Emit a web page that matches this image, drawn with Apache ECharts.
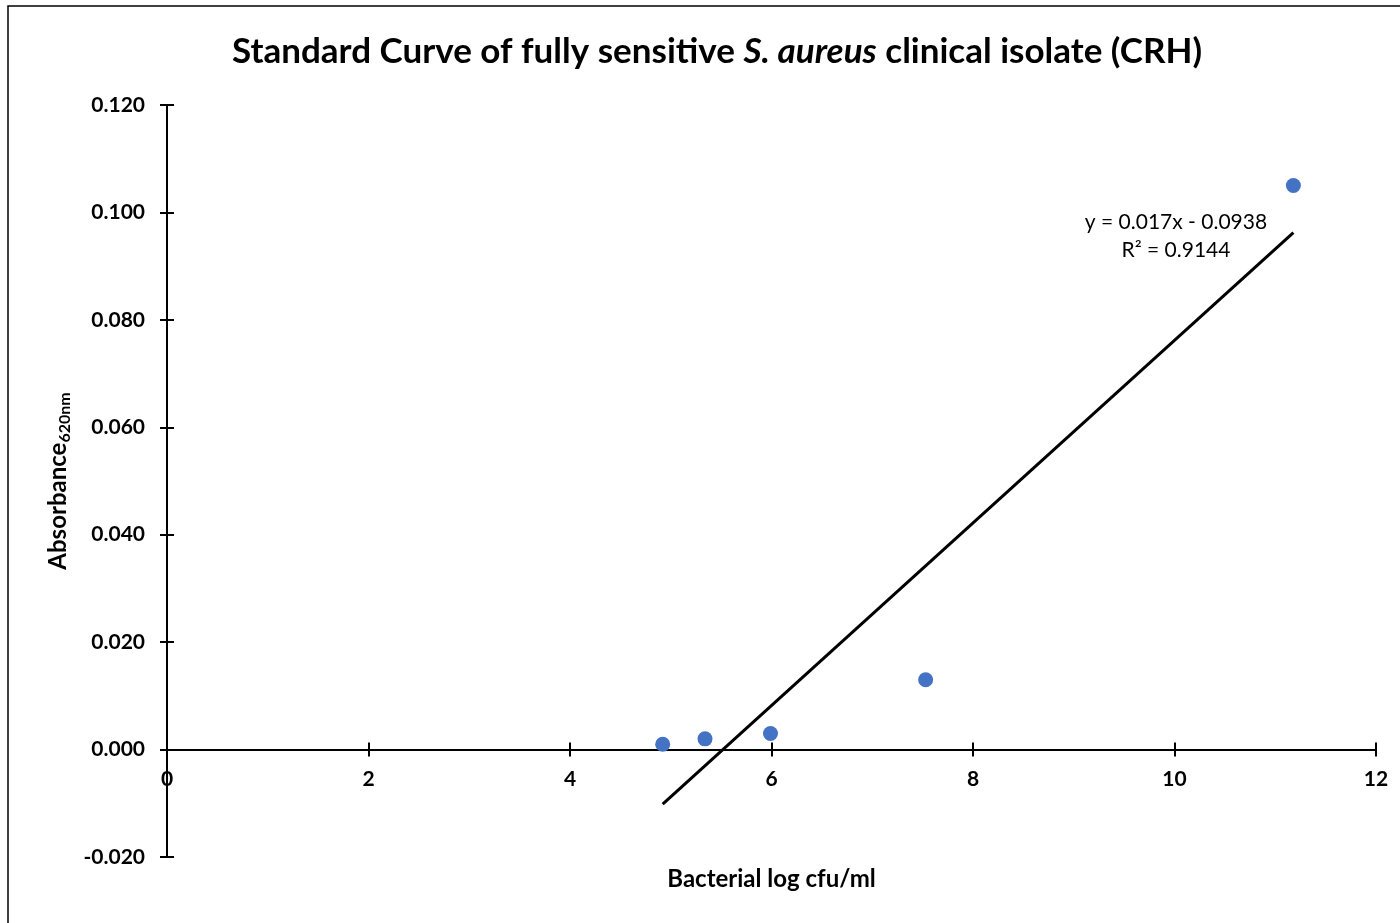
<!DOCTYPE html>
<html><head><meta charset="utf-8">
<script src="https://cdn.jsdelivr.net/npm/echarts@6/dist/echarts.min.js"></script>
<style>html,body{margin:0;padding:0;background:#fff}#c{width:1400px;height:923px}</style>
</head><body><div id="c"></div>
<script>
const logCfu = [4.92, 5.34, 5.99, 7.53, 11.18];
const absorbance = [0.001, 0.002, 0.003, 0.013, 0.105];
const trendSlope = 0.017;
const trendIntercept = -0.0938;
const trendR2 = 0.9144;
const xTicks = [0, 2, 4, 6, 8, 10, 12];
const yTicks = [-0.020, 0.000, 0.020, 0.040, 0.060, 0.080, 0.100, 0.120];

const FONT = 'Lato, "Noto Sans", sans-serif';
const xMinD = Math.min(...logCfu), xMaxD = Math.max(...logCfu);
const trend = [[xMinD, trendSlope * xMinD + trendIntercept], [xMaxD, trendSlope * xMaxD + trendIntercept]];

const GRID = {left: 167, right: 24, top: 105, bottom: 66};
const H = 923;
const yMin = yTicks[0], yMax = yTicks[yTicks.length - 1];
const plotH = H - GRID.top - GRID.bottom;
const zeroOffset = -plotH * (0 - yMin) / (yMax - yMin);

const chart = echarts.init(document.getElementById('c'), null, {renderer: 'canvas'});
const axisLine = {lineStyle: {color: '#000', width: 2}};
const tickStyle = {color: '#000', width: 2};
const xBase = {type: 'value', min: xTicks[0], max: xTicks[xTicks.length - 1], interval: 2,
  splitLine: {show: false}};
const yBase = {type: 'value', min: yMin, max: yMax, interval: 0.02,
  splitLine: {show: false}, axisLine: Object.assign({onZero: false}, axisLine), position: 'left'};
chart.setOption({
  animation: false,
  backgroundColor: '#fff',
  title: {
    text: 'Standard Curve of fully sensitive {i|S. aureus} clinical isolate (CRH)',
    left: 227, top: 29,
    textStyle: {fontFamily: FONT, fontWeight: 'bold', fontSize: 35, color: '#000',
      rich: {i: {fontFamily: FONT, fontWeight: 'bold', fontStyle: 'italic', fontSize: 35, color: '#000'}}}
  },
  grid: Object.assign({containLabel: false, outerBoundsMode: 'none'}, GRID),
  xAxis: [
    Object.assign({}, xBase, {
      position: 'bottom', offset: zeroOffset,
      axisLine: Object.assign({onZero: false}, axisLine),
      axisTick: {show: true, inside: false, length: 7, lineStyle: tickStyle},
      axisLabel: {fontFamily: FONT, fontWeight: 'bold', fontSize: 21, color: '#000', margin: 19,
        formatter: v => String(v)},
      name: 'Bacterial log cfu/ml', nameLocation: 'middle', nameGap: 118,
      nameTextStyle: {fontFamily: FONT, fontWeight: 'bold', fontSize: 24, color: '#000'}
    }),
    Object.assign({}, xBase, {
      position: 'top',
      axisLine: Object.assign({onZero: true, onZeroAxisIndex: 0}, axisLine),
      axisTick: {show: true, inside: false, length: 7, lineStyle: tickStyle},
      axisLabel: {show: false}
    })
  ],
  yAxis: [
    Object.assign({}, yBase, {
      axisTick: {show: true, inside: false, length: 7, lineStyle: tickStyle},
      axisLabel: {fontFamily: FONT, fontWeight: 'bold', fontSize: 21, color: '#000', margin: 22,
        formatter: v => v.toFixed(3)},
      name: 'Absorbance{s|620nm}', nameLocation: 'middle', nameGap: 92, nameRotate: 90,
      nameTextStyle: {fontFamily: FONT, fontWeight: 'bold', fontSize: 24, color: '#000',
        rich: {s: {fontFamily: FONT, fontWeight: 'bold', fontSize: 16, color: '#000', verticalAlign: 'bottom', padding: [12, 0, 0, 0]}}}
    }),
    Object.assign({}, yBase, {
      axisTick: {show: true, inside: true, length: 7, lineStyle: tickStyle},
      axisLabel: {show: false}
    })
  ],
  series: [
    {type: 'line', data: trend, showSymbol: false, symbol: 'none',
      lineStyle: {color: '#000', width: 3}, z: 2, silent: true},
    {type: 'scatter', data: logCfu.map((x, i) => [x, absorbance[i]]), symbol: 'circle', symbolSize: 15,
      itemStyle: {color: '#4472C4', opacity: 1}, z: 3}
  ],
  graphic: [
    {type: 'rect', shape: {x: 8, y: 6, width: 1500, height: 1000},
      style: {fill: 'none', stroke: '#000', lineWidth: 1.5}, z: 100, silent: true},
    {type: 'text', x: 1176, y: 236, z: 100,
      style: {text: 'y = ' + trendSlope + 'x - ' + Math.abs(trendIntercept).toFixed(4) + '\nR² = ' + trendR2,
        fontFamily: FONT, fontSize: 21, fill: '#000', align: 'center', verticalAlign: 'middle', lineHeight: 28}}
  ]
});
</script></body></html>
